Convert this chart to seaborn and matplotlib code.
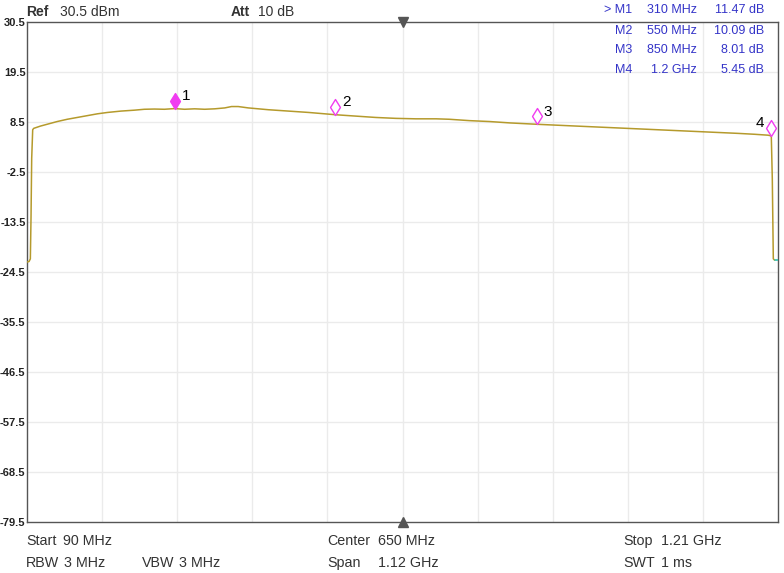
import matplotlib
matplotlib.use('Agg')
import matplotlib.pyplot as plt
import pandas as pd
import seaborn as sns
import numpy as np
from matplotlib.path import Path

# trace (MHz, dB)
freq = [90, 93, 95, 96, 97, 98.5, 100, 110, 120, 135, 150, 165, 180, 195, 210, 230,
        250, 265, 280, 295, 310, 325, 340, 355, 370, 385, 395, 405, 420, 435, 450,
        480, 510, 550, 580, 610, 640, 670, 700, 720, 750, 780, 810, 850, 880, 910,
        940, 970, 1000, 1030, 1060, 1090, 1120, 1150, 1175, 1195, 1200, 1201.5, 1203, 1205]
level = [-22.3, -22.2, -21.6, -12.5, 0.5, 6.8, 7.1, 7.6, 8.0, 8.6, 9.1, 9.5, 9.9, 10.3, 10.6, 10.9,
         11.1, 11.3, 11.35, 11.3, 11.45, 11.3, 11.4, 11.3, 11.4, 11.6, 11.9, 11.9, 11.6, 11.4, 11.2,
         10.9, 10.6, 10.1, 9.8, 9.5, 9.3, 9.2, 9.2, 9.1, 8.8, 8.6, 8.3, 8.0, 7.8, 7.6,
         7.4, 7.2, 7.0, 6.8, 6.6, 6.4, 6.2, 6.0, 5.8, 5.6, 5.45, -4.0, -21.6, -21.9]

marker_ids = ['1', '2', '3', '4']
marker_freq = [310, 550, 850, 1200]
marker_db = [11.47, 10.09, 8.01, 5.45]
marker_freq_txt = ['310 MHz', '550 MHz', '850 MHz', '1.2 GHz']
marker_db_txt = ['11.47 dB', '10.09 dB', '8.01 dB', '5.45 dB']

y_ticks = [30.5, 19.5, 8.5, -2.5, -13.5, -24.5, -35.5, -46.5, -57.5, -68.5, -79.5]
f_start, f_stop = 90, 1210

df = pd.DataFrame({'freq': freq, 'level': level})

sns.set_style('white')
plt.rcParams['font.family'] = ['Liberation Sans', 'DejaVu Sans']

fig = plt.figure(figsize=(7.84, 5.73), dpi=100)
ax = fig.add_axes([27 / 784, 1 - 522 / 573, 751 / 784, 500 / 573])

# grid
for f in np.linspace(f_start, f_stop, 11)[1:-1]:
    ax.axvline(f, color='#ebebeb', lw=1, zorder=0)
for y in y_ticks[1:-1]:
    ax.axhline(y, color='#ebebeb', lw=1, zorder=0)

sns.lineplot(data=df, x='freq', y='level', ax=ax, color='#b59a2c', lw=1.1,
             estimator=None, sort=False, zorder=3)
ax.plot([1205, 1210], [-21.9, -21.9], color='#30c0b0', lw=1.2, zorder=3)

# marker diamonds, bottom tip sitting on the trace
diamond = Path([(0, 0), (0.62, 1), (0, 2), (-0.62, 1), (0, 0)],
               [Path.MOVETO, Path.LINETO, Path.LINETO, Path.LINETO, Path.CLOSEPOLY])
for i, (mf, md) in enumerate(zip(marker_freq, marker_db)):
    face = '#f03cf0' if i == 0 else 'white'
    ax.plot([mf], [md], marker=diamond, ms=23, mfc=face, mec='#f03cf0', mew=1,
            ls='none', zorder=5, clip_on=False)
    if i < 3:
        ax.annotate(marker_ids[i], (mf, md), xytext=(5, 9), textcoords='offset points',
                    fontsize=11, color='black', ha='left', va='center')
    else:
        ax.annotate(marker_ids[i], (mf, md), xytext=(-5, 9), textcoords='offset points',
                    fontsize=11, color='black', ha='right', va='center')

ax.set_xlim(f_start, f_stop)
ax.set_ylim(y_ticks[-1], y_ticks[0])
ax.set_xticks([])
ax.set_yticks(y_ticks)
ax.set_yticklabels([f'{v:g}' for v in y_ticks], fontsize=8, fontweight='bold', color='#222')
ax.tick_params(axis='y', length=0, pad=1)
ax.set_xlabel('')
ax.set_ylabel('')
for s in ax.spines.values():
    s.set_color('#555555')
    s.set_linewidth(1)

# center triangles
ax.plot([650], [30.5], marker='v', ms=7, color='#555555', clip_on=False, zorder=6)
ax.plot([650], [-79.5], marker='^', ms=7, color='#555555', clip_on=False, zorder=6)

W, H = 784, 573
def txt(x, y, s, **kw):
    fig.text(x / W, 1 - y / H, s, va='center', **kw)

txt(26, 12, 'Ref', fontsize=10, fontweight='bold', color='#333')
txt(60, 12, '30.5 dBm', fontsize=10, color='#333')
txt(231, 12, 'Att', fontsize=10, fontweight='bold', color='#333')
txt(258, 12, '10 dB', fontsize=10, color='#333')

blue = '#3434c8'
rows_y = [10, 31, 50, 70]
for i in range(4):
    lab = ('> M' if i == 0 else 'M') + marker_ids[i]
    txt(632, rows_y[i], lab, fontsize=9, color=blue, ha='right')
    txt(697, rows_y[i], marker_freq_txt[i], fontsize=9, color=blue, ha='right')
    txt(764, rows_y[i], marker_db_txt[i], fontsize=9, color=blue, ha='right')

bot = '#333333'
fs = 10.3
txt(26, 541, 'Start', fontsize=fs, color=bot)
txt(63, 541, '90 MHz', fontsize=fs, color=bot)
txt(26, 563, 'RBW', fontsize=fs, color=bot)
txt(64, 563, '3 MHz', fontsize=fs, color=bot)
txt(142, 563, 'VBW', fontsize=fs, color=bot)
txt(179, 563, '3 MHz', fontsize=fs, color=bot)
txt(327, 541, 'Center', fontsize=fs, color=bot)
txt(378, 541, '650 MHz', fontsize=fs, color=bot)
txt(327, 563, 'Span', fontsize=fs, color=bot)
txt(378, 563, '1.12 GHz', fontsize=fs, color=bot)
txt(623, 541, 'Stop', fontsize=fs, color=bot)
txt(661, 541, '1.21 GHz', fontsize=fs, color=bot)
txt(623, 563, 'SWT', fontsize=fs, color=bot)
txt(661, 563, '1 ms', fontsize=fs, color=bot)

fig.savefig('out.png', dpi=100)
